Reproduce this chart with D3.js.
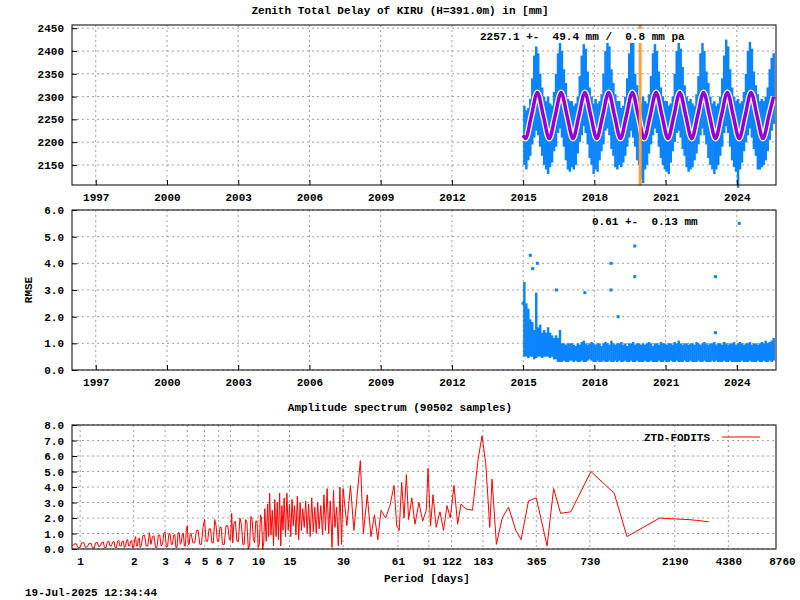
<!DOCTYPE html>
<html><head><meta charset="utf-8">
<script src="https://cdn.jsdelivr.net/npm/d3@7"></script>
<style>body{margin:0;background:#fff}text{font-family:"Liberation Mono","DejaVu Sans Mono",monospace;font-size:11px;font-weight:bold;fill:#000}</style>
</head><body><svg id="c" width="800" height="600"></svg>
<script>
const yearTicks=[1997,2000,2003,2006,2009,2012,2015,2018,2021,2024];
const ztdTicks=[2150,2200,2250,2300,2350,2400,2450];
const rmseTicks=[0,1,2,3,4,5,6];
const ampTicks=[0,1,2,3,4,5,6,7,8];
const periodTicks=[1,2,3,4,5,6,7,10,15,30,61,91,122,183,365,730,2190,4380,8760];
const ztdLo=[
[2150,2140,2160,2170,2195,2210,2225,2215,2190,2170,2150,2140],
[2130,2145,2155,2180,2190,2220,2230,2210,2190,2160,2140,2135],
[2145,2140,2150,2175,2200,2215,2235,2220,2195,2165,2150,2130],
[2140,2135,2160,2180,2195,2225,2230,2215,2185,2170,2145,2140],
[2150,2145,2155,2170,2190,2210,2225,2210,2190,2160,2150,2120],
[2110,2140,2150,2175,2195,2215,2230,2220,2190,2165,2150,2140],
[2135,2130,2155,2180,2200,2220,2225,2210,2185,2170,2145,2135],
[2140,2145,2160,2175,2195,2215,2230,2215,2195,2165,2150,2140],
[2130,2140,2150,2170,2190,2220,2235,2220,2190,2160,2145,2135],
[2100,2140,2155,2180,2200,2215,2230,2210,2185,2170,2140,2140],
[2145,2150,2160,2180,2205,2225,2240]];
const ztdHi=[
[2280,2270,2275,2295,2340,2390,2410,2395,2350,2320,2300,2290],
[2300,2285,2280,2310,2350,2395,2420,2400,2360,2330,2295,2290],
[2290,2280,2285,2300,2345,2390,2415,2405,2355,2320,2300,2285],
[2295,2285,2290,2305,2350,2400,2425,2410,2360,2330,2305,2290],
[2290,2275,2280,2300,2340,2395,2440,2420,2350,2325,2300,2285],
[2300,2290,2285,2305,2345,2395,2415,2400,2355,2320,2300,2290],
[2290,2280,2285,2300,2350,2400,2430,2405,2365,2325,2300,2290],
[2295,2285,2280,2305,2345,2395,2420,2400,2355,2330,2300,2285],
[2290,2280,2285,2300,2340,2390,2425,2410,2360,2320,2300,2290],
[2295,2285,2290,2310,2350,2400,2420,2405,2355,2325,2305,2290],
[2295,2290,2300,2320,2360,2385,2395]];
const modelT=[2015.0,2015.1,2015.35,2015.6,2015.85,2016.1,2016.35,2016.6,2016.85,2017.1,2017.35,2017.6,2017.85,2018.1,2018.35,2018.6,2018.85,2019.1,2019.35,2019.6,2019.85,2020.1,2020.35,2020.6,2020.85,2021.1,2021.35,2021.6,2021.85,2022.1,2022.35,2022.6,2022.85,2023.1,2023.35,2023.6,2023.85,2024.1,2024.35,2024.6,2024.85,2025.1,2025.35,2025.55];
const modelV=[2215,2208,2258,2309,2258,2208,2258,2309,2258,2208,2258,2309,2258,2208,2258,2309,2258,2208,2258,2309,2258,2208,2258,2309,2258,2208,2258,2309,2258,2208,2258,2309,2258,2208,2258,2309,2258,2208,2258,2309,2258,2208,2258,2300];
const rmseLo=[
[0.5,0.5,0.45,0.5,0.5,0.4,0.45,0.5,0.5,0.45,0.5,0.5],
[0.5,0.45,0.5,0.4,0.4,0.3,0.3,0.3,0.35,0.3,0.3,0.35],
[0.35,0.3,0.35,0.3,0.3,0.35,0.3,0.3,0.35,0.4,0.35,0.3],
[0.3,0.35,0.3,0.3,0.35,0.3,0.3,0.35,0.3,0.3,0.35,0.3],
[0.35,0.3,0.3,0.35,0.3,0.3,0.35,0.3,0.3,0.35,0.3,0.3],
[0.3,0.35,0.3,0.3,0.35,0.3,0.3,0.3,0.35,0.3,0.3,0.35],
[0.3,0.3,0.35,0.3,0.3,0.35,0.3,0.3,0.3,0.35,0.3,0.3],
[0.35,0.3,0.3,0.3,0.35,0.3,0.3,0.35,0.3,0.3,0.3,0.35],
[0.3,0.35,0.3,0.3,0.3,0.35,0.3,0.3,0.35,0.3,0.3,0.3],
[0.3,0.3,0.35,0.3,0.3,0.3,0.35,0.3,0.3,0.3,0.35,0.3],
[0.3,0.35,0.3,0.3,0.35,0.3,0.35]];
const rmseHi=[
[3.3,2.5,2.3,1.9,1.8,1.5,2.9,1.6,1.7,1.4,1.5,1.4],
[1.6,1.4,1.3,1.2,1.3,1.2,1.5,1.0,1.0,0.95,1.0,1.0],
[1.0,0.95,0.9,1.0,0.95,1.05,1.1,1.0,0.95,1.0,1.05,1.0],
[0.95,1.0,1.0,0.9,1.0,1.05,1.0,0.95,1.1,1.0,0.95,1.0],
[1.0,1.05,0.95,1.0,0.9,1.0,1.0,1.05,0.95,1.0,1.0,0.95],
[1.0,0.95,1.0,1.05,1.0,0.9,1.0,1.0,0.95,1.05,1.0,1.0],
[0.95,1.0,1.0,0.95,1.05,1.0,1.1,1.0,0.95,1.0,1.0,0.95],
[1.0,1.0,0.95,1.05,1.0,0.95,1.0,1.05,1.0,0.95,1.0,1.0],
[1.05,0.95,1.0,1.0,0.95,1.05,1.0,0.95,1.0,1.0,1.05,0.95],
[1.0,1.05,1.0,0.95,1.0,1.0,1.05,0.95,1.0,1.0,0.95,1.0],
[1.05,1.0,1.1,1.0,1.05,1.1,1.2]];
const rmseOutT=[2015.0,2015.3,2015.4,2015.6,2016.4,2017.6,2018.7,2018.7,2019.0,2019.7,2019.7,2023.1,2023.1,2024.1];
const rmseOutV=[2.5,4.3,3.8,4.0,3.0,2.9,4.0,3.0,2.0,4.65,3.5,3.5,1.4,5.5];
const spectrum=[
[0.9,0.2],[0.92,0.3],[0.95,0.35],[0.97,0.1],[1.0,0.1],[1.02,0.4],[1.05,0.4],[1.07,0.1],[1.1,0.15],[1.12,0.35],[1.15,0.38],[1.17,0.1],[1.2,0.05],[1.22,0.4],[1.25,0.42],[1.27,0.15],[1.3,0.2],[1.32,0.4],[1.35,0.45],[1.37,0.1],[1.4,0.1],[1.42,0.45],[1.45,0.5],[1.47,0.2],[1.5,0.2],[1.52,0.45],[1.55,0.48],[1.57,0.1],[1.6,0.1],[1.62,0.5],[1.65,0.55],[1.67,0.2],[1.7,0.2],[1.72,0.5],[1.75,0.5],[1.77,0.1],[1.8,0.15],[1.82,0.55],[1.85,0.6],[1.87,0.2],[1.9,0.2],[1.92,0.5],[1.95,0.55],[1.97,0.1],[2.0,0.1],[2.02,0.6],[2.05,0.8],[2.07,0.2],[2.1,0.2],[2.12,0.65],[2.15,0.7],[2.17,0.1],[2.2,0.15],[2.25,0.85],[2.3,0.9],[2.35,0.2],[2.4,0.2],[2.45,1.05],[2.5,0.3],[2.55,0.8],[2.6,0.85],[2.65,0.1],[2.7,0.1],[2.75,0.9],[2.8,0.9],[2.85,0.2],[2.9,0.3],[2.95,1.0],[3.0,1.1],[3.05,0.1],[3.1,0.2],[3.15,0.95],[3.2,1.0],[3.25,0.3],[3.3,0.3],[3.35,0.9],[3.4,0.95],[3.45,0.1],[3.5,0.1],[3.55,1.05],[3.6,1.05],[3.65,0.3],[3.7,0.4],[3.75,1.0],[3.8,1.0],[3.85,0.2],[3.9,0.2],[3.95,1.3],[4.0,1.5],[4.05,0.3],[4.1,0.3],[4.15,1.0],[4.2,1.0],[4.3,0.4],[4.4,0.4],[4.5,1.2],[4.6,1.2],[4.7,0.3],[4.8,0.3],[4.9,1.4],[5.0,1.9],[5.1,0.5],[5.2,0.5],[5.3,1.3],[5.4,1.3],[5.5,0.4],[5.6,0.4],[5.7,1.9],[5.8,1.5],[5.9,0.5],[6.0,0.5],[6.1,1.4],[6.2,1.4],[6.3,0.3],[6.45,0.3],[6.6,1.5],[6.75,1.5],[6.9,0.6],[7.0,0.6],[7.1,2.3],[7.2,0.4],[7.3,1.6],[7.45,1.8],[7.6,0.5],[7.75,0.5],[7.9,2.0],[8.05,1.6],[8.2,0.3],[8.35,0.3],[8.5,1.9],[8.65,1.7],[8.8,0.0],[8.95,0.2],[9.1,2.1],[9.25,1.9],[9.4,0.6],[9.55,0.4],[9.7,1.8],[9.85,1.8],[10.0,0.1],[10.15,0.3],[10.3,2.2],[10.45,2.0],[10.6,0.0],[10.75,0.4],[10.9,2.6],[11.1,0.5],[11.3,2.9],[11.45,0.8],[11.6,3.6],[11.8,0.9],[12.0,2.5],[12.2,0.2],[12.4,3.2],[12.6,0.8],[12.8,3.0],[13.0,0.6],[13.2,3.6],[13.4,0.2],[13.6,2.8],[13.8,1.2],[14.0,3.3],[14.25,0.8],[14.5,3.6],[14.75,1.2],[15.0,2.9],[15.25,0.8],[15.5,3.2],[15.75,1.5],[16.0,2.8],[16.3,0.9],[16.6,3.4],[16.9,0.6],[17.2,3.0],[17.5,1.2],[17.8,2.6],[18.15,1.4],[18.5,3.1],[18.85,1.0],[19.2,2.9],[19.6,0.8],[20,3.3],[20.4,1.1],[20.8,2.7],[21.2,1.0],[21.6,3.0],[22.0,1.3],[22.5,2.8],[23.0,0.9],[23.4,3.5],[23.9,1.2],[24.4,3.9],[24.9,1.0],[25.4,3.1],[26.0,0.1],[26.5,3.8],[27.0,1.4],[27.6,2.7],[28.2,0.2],[28.8,4.0],[29.4,0.3],[30.0,3.9],
[31.5,1.5],[33,4.1],[34.5,1.2],[36,3.5],[37.5,5.7],[39,1.0],[41,3.5],[43,0.8],[45,2.2],[47,0.6],[49,2.5],[52,2.0],[55,2.8],[58,4.1],[60,1.5],[62,1.2],[64,4.3],[66,2.0],[68,4.8],[70,1.9],[73,3.3],[76,1.6],[80,3.0],[84,1.8],[88,2.5],[90,5.2],[93,1.5],[96,3.5],[100,1.4],[105,2.4],[110,1.2],[115,2.8],[120,2.0],[126,4.1],[132,1.6],[138,2.9],[146,2.6],[160,2.5],[172,5.8],[181,7.3],[190,5.5],[200,1.4],[206,4.5],[218,0.3],[235,2.0],[255,2.7],[280,1.2],[300,0.6],[330,3.1],[365,3.3],[420,0.2],[457,3.9],[500,2.3],[570,2.4],[740,5.0],[1000,3.6],[1180,0.8],[1800,2.0],[2100,1.95],[2600,1.9],[2900,1.85],[3400,1.75]];

const svg=d3.select("#c");
const L=72,R=776;
const x=d3.scaleLinear().domain([1996.0,2025.65]).range([L,R]);
const blue="#0a84ff";
function months(arr){const o=[];arr.forEach((row,yi)=>row.forEach((v,mi)=>o.push({t:2015+yi+mi/12,v})));return o;}
function frame(y0,y1){svg.append("rect").attr("x",L).attr("y",y0).attr("width",R-L).attr("height",y1-y0).attr("fill","none").attr("stroke","#000");}
function grid(g,xs,ys,xf,yf,y0,y1,x0,x1){
 xs.forEach(v=>g.append("line").attr("x1",xf(v)).attr("x2",xf(v)).attr("y1",y0).attr("y2",y1).attr("stroke","#a0a0a0").attr("stroke-dasharray","2,3"));
 ys.forEach(v=>g.append("line").attr("x1",x0).attr("x2",x1).attr("y1",yf(v)).attr("y2",yf(v)).attr("stroke","#a0a0a0").attr("stroke-dasharray","2,3"));
}
// ---------- Panel 1
const T1=25,B1=185;
const y1=d3.scaleLinear().domain([2106,2457]).range([B1,T1]);
const g1=svg.append("g");
grid(g1,yearTicks,ztdTicks,x,y1,T1,B1,L,R);
const lo1=months(ztdLo),hi1=months(ztdHi);
const bw=x(2015+1/12)-x(2015);
g1.selectAll(".zb").data(lo1).enter().append("rect").attr("x",d=>x(d.t)).attr("width",bw+0.5)
 .attr("y",(d,i)=>y1(hi1[i].v)).attr("height",(d,i)=>y1(d.v)-y1(hi1[i].v)).attr("fill",blue);
const md=modelT.map((t,i)=>({t,v:modelV[i]}));
const ln=d3.line().x(d=>x(d.t)).y(d=>y1(d.v)).curve(d3.curveMonotoneX);
g1.append("path").attr("d",ln(md)).attr("fill","none").attr("stroke","#fff").attr("stroke-width",6);
g1.append("path").attr("d",ln(md)).attr("fill","none").attr("stroke","#9400d3").attr("stroke-width",3.5);
g1.append("line").attr("x1",x(2019.93)).attr("x2",x(2019.93)).attr("y1",T1).attr("y2",B1).attr("stroke","#ffa040").attr("stroke-width",3);
frame(T1,B1);
g1.append("g").attr("transform",`translate(${L},0)`).call(d3.axisLeft(y1).tickValues(ztdTicks).tickFormat(d3.format("d")).tickSize(-5).tickPadding(8)).call(a=>a.select(".domain").remove());
g1.append("g").attr("transform",`translate(0,${B1})`).call(d3.axisBottom(x).tickValues(yearTicks).tickFormat(d3.format("d")).tickSize(-5).tickPadding(8)).call(a=>a.select(".domain").remove());
svg.append("rect").attr("x",478).attr("y",29).attr("width",238).attr("height",14).attr("fill","#fff");
svg.append("text").attr("x",480).attr("y",40).attr("xml:space","preserve").text("2257.1 +-  49.4 mm /  0.8 mm pa");
svg.append("text").attr("x",400).attr("y",14).attr("text-anchor","middle").text("Zenith Total Delay of KIRU (H=391.0m) in [mm]");
// ---------- Panel 2
const T2=210,B2=370;
const y2=d3.scaleLinear().domain([0,6]).range([B2,T2]);
const g2=svg.append("g");
grid(g2,yearTicks,rmseTicks,x,y2,T2,B2,L,R);
const lo2=months(rmseLo),hi2=months(rmseHi);
g2.selectAll(".rb").data(lo2).enter().append("rect").attr("x",d=>x(d.t)).attr("width",bw+0.5)
 .attr("y",(d,i)=>y2(hi2[i].v)).attr("height",(d,i)=>y2(d.v)-y2(hi2[i].v)).attr("fill",blue);
g2.selectAll(".ro").data(rmseOutT).enter().append("rect").attr("x",d=>x(d)-1.5).attr("y",(d,i)=>y2(rmseOutV[i])-1.5).attr("width",3).attr("height",3).attr("fill",blue);
frame(T2,B2);
g2.append("g").attr("transform",`translate(${L},0)`).call(d3.axisLeft(y2).tickValues(rmseTicks).tickFormat(d3.format(".1f")).tickSize(-5).tickPadding(8)).call(a=>a.select(".domain").remove());
g2.append("g").attr("transform",`translate(0,${B2})`).call(d3.axisBottom(x).tickValues(yearTicks).tickFormat(d3.format("d")).tickSize(-5).tickPadding(8)).call(a=>a.select(".domain").remove());
svg.append("text").attr("x",592).attr("y",225).attr("xml:space","preserve").text("0.61 +-  0.13 mm");
svg.append("text").attr("transform","translate(32,290) rotate(-90)").attr("text-anchor","middle").text("RMSE");
// ---------- Panel 3
const T3=425,B3=549;
const x3=d3.scaleLog().domain([0.9,8110]).range([L,R]);
const y3=d3.scaleLinear().domain([0,8]).range([B3,T3]);
const g3=svg.append("g");
grid(g3,periodTicks.filter(p=>p<8000),ampTicks,x3,y3,T3,B3,L,R);
g3.append("path").attr("d",d3.line().x(d=>x3(d[0])).y(d=>y3(d[1]))(spectrum)).attr("fill","none").attr("stroke","#f00").attr("stroke-width",1);
frame(T3,B3);
g3.append("g").attr("transform",`translate(${L},0)`).call(d3.axisLeft(y3).tickValues(ampTicks).tickFormat(d3.format(".1f")).tickSize(-5).tickPadding(8)).call(a=>a.select(".domain").remove());
g3.append("g").attr("transform",`translate(0,${B3})`).call(d3.axisBottom(x3).tickValues(periodTicks).tickFormat(d3.format("d")).tickSize(0).tickPadding(8)).call(a=>a.select(".domain").remove());
svg.append("text").attr("x",400).attr("y",411).attr("text-anchor","middle").text("Amplitude spectrum (90502 samples)");
svg.append("text").attr("x",710).attr("y",441).attr("text-anchor","end").text("ZTD-FODITS");
svg.append("line").attr("x1",722).attr("x2",760).attr("y1",437).attr("y2",437).attr("stroke","#f00");
svg.append("text").attr("x",427).attr("y",582).attr("text-anchor","middle").text("Period [days]");
svg.append("text").attr("x",25).attr("y",596).text("19-Jul-2025 12:34:44");
svg.selectAll(".tick text").style("font-family","Liberation Mono, monospace").style("font-size","11px").style("font-weight","bold").attr("fill","#000");
svg.selectAll(".tick line").attr("stroke","#000");
</script></body></html>
